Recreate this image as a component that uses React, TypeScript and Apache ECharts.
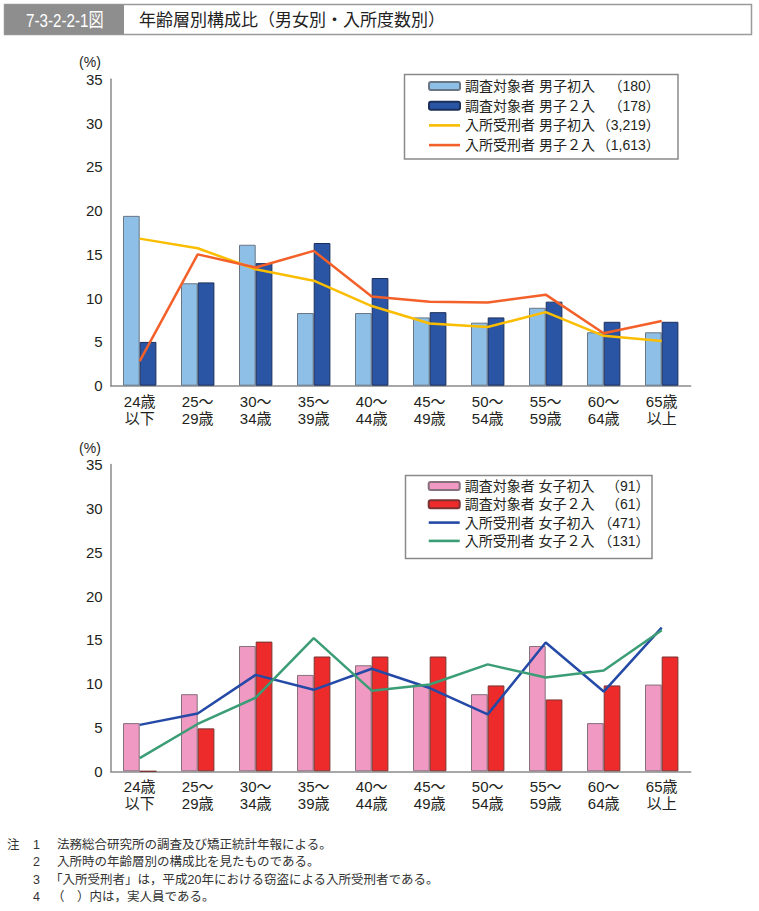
import React, { useEffect, useRef } from "react";
import * as echarts from "echarts";

const categories = [
  "24歳\n以下", "25～\n29歳", "30～\n34歳", "35～\n39歳", "40～\n44歳",
  "45～\n49歳", "50～\n54歳", "55～\n59歳", "60～\n64歳", "65歳\n以上",
];
const yTicks = [0, 5, 10, 15, 20, 25, 30, 35];

const maleNames = ["調査対象者 男子初入", "調査対象者 男子２入", "入所受刑者 男子初入", "入所受刑者 男子２入"];
const maleCounts = ["180", "178", "3,219", "1,613"];
const femaleNames = ["調査対象者 女子初入", "調査対象者 女子２入", "入所受刑者 女子初入", "入所受刑者 女子２入"];
const femaleCounts = ["91", "61", "471", "131"];

const maleSurveyFirst = [19.4, 11.7, 16.1, 8.3, 8.3, 7.8, 7.2, 8.9, 6.1, 6.1];
const maleSurveySecond = [5.0, 11.8, 14.0, 16.3, 12.3, 8.4, 7.8, 9.6, 7.3, 7.3];
const maleInmateFirst = [16.8, 15.7, 13.3, 12.0, 9.1, 7.1, 6.7, 8.4, 5.7, 5.1];
const maleInmateSecond = [2.8, 15.0, 13.5, 15.4, 10.2, 9.6, 9.5, 10.4, 6.0, 7.4];

const femaleSurveyFirst = [5.5, 8.8, 14.3, 11.0, 12.1, 9.9, 8.8, 14.3, 5.5, 9.9];
const femaleSurveySecond = [0, 4.9, 14.8, 13.1, 13.1, 13.1, 9.8, 8.2, 9.8, 13.1];
const femaleInmateFirst = [5.3, 6.6, 11.0, 9.3, 11.7, 9.5, 6.5, 14.7, 9.1, 16.4];
const femaleInmateSecond = [1.5, 5.4, 8.4, 15.2, 9.2, 9.9, 12.2, 10.7, 11.5, 16.1];

const notes = [
  { num: "1", text: "法務総合研究所の調査及び矯正統計年報による。", x: 57 },
  { num: "2", text: "入所時の年齢層別の構成比を見たものである。", x: 57 },
  { num: "3", text: "「入所受刑者」は，平成20年における窃盗による入所受刑者である。", x: 50 },
  { num: "4", text: "（　）内は，実人員である。", x: 52 },
];

const FONT = "'Liberation Sans', 'Noto Sans CJK JP', sans-serif";
const TXT = "#231f20";
const LINE_ICON = "path://M0,0H31V2.6H0Z";

export default function App() {
  const ref = useRef<HTMLDivElement>(null);
  useEffect(() => {
    if (!ref.current) return;
    const chart = echarts.init(ref.current, null, { renderer: "svg" });

    const gridL = 110.7;
    const gridW = 580;
    const grids = [
      { left: gridL, top: 79.3, width: gridW, height: 306.4 },
      { left: gridL, top: 464.6, width: gridW, height: 306.7 },
    ];

    const xAxis = [0, 1].map((i) => ({
      type: "category",
      gridIndex: i,
      data: categories,
      axisLine: { lineStyle: { color: "#8a8a8a", width: 1.5 } },
      axisTick: { show: false },
      axisLabel: { color: TXT, fontSize: 15, fontFamily: FONT, lineHeight: 17, margin: 7, interval: 0 },
    }));
    const yAxis = [0, 1].map((i) => ({
      type: "value",
      gridIndex: i,
      min: yTicks[0],
      max: yTicks[yTicks.length - 1],
      interval: 5,
      splitLine: { show: false },
      axisLine: { show: true, lineStyle: { color: "#8a8a8a", width: 1.5 } },
      axisTick: { show: false },
      axisLabel: { color: TXT, fontSize: 15, fontFamily: FONT, margin: 8 },
    }));

    const barBase = { type: "bar", barWidth: 16.7, barGap: "0%" };
    const lineBase = { type: "line", symbol: "none", showSymbol: false };

    const series: any[] = [
      { ...barBase, name: maleNames[0], xAxisIndex: 0, yAxisIndex: 0, data: maleSurveyFirst,
        itemStyle: { color: "#8dbfe7", borderColor: "#6b7684", borderWidth: 1 } },
      { ...barBase, name: maleNames[1], xAxisIndex: 0, yAxisIndex: 0, data: maleSurveySecond,
        itemStyle: { color: "#2a55a4", borderColor: "#1c2f5a", borderWidth: 1 } },
      { ...lineBase, name: maleNames[2], xAxisIndex: 0, yAxisIndex: 0, data: maleInmateFirst,
        itemStyle: { color: "#fbbd00" }, lineStyle: { width: 2.5, color: "#fbbd00" } },
      { ...lineBase, name: maleNames[3], xAxisIndex: 0, yAxisIndex: 0, data: maleInmateSecond,
        itemStyle: { color: "#f3602a" }, lineStyle: { width: 2.5, color: "#f3602a" } },
      { ...barBase, name: femaleNames[0], xAxisIndex: 1, yAxisIndex: 1, data: femaleSurveyFirst,
        itemStyle: { color: "#ef99c3", borderColor: "#85707c", borderWidth: 1 } },
      { ...barBase, name: femaleNames[1], xAxisIndex: 1, yAxisIndex: 1, data: femaleSurveySecond,
        itemStyle: { color: "#ee2b2b", borderColor: "#7a3232", borderWidth: 1 } },
      { ...lineBase, name: femaleNames[2], xAxisIndex: 1, yAxisIndex: 1, data: femaleInmateFirst,
        itemStyle: { color: "#2449a6" }, lineStyle: { width: 2.5, color: "#2449a6" } },
      { ...lineBase, name: femaleNames[3], xAxisIndex: 1, yAxisIndex: 1, data: femaleInmateSecond,
        itemStyle: { color: "#3b9d75" }, lineStyle: { width: 2.5, color: "#3b9d75" } },
    ];

    const makeLegend = (names: string[], counts: string[], left: number, top: number, cWidth: number, gap: number) => ({
      orient: "vertical",
      left,
      top,
      data: names.map((n, i) => (i < 2 ? { name: n } : { name: n, icon: LINE_ICON })),
      itemWidth: 31,
      itemHeight: 8,
      itemGap: gap,
      padding: 0,
      selectedMode: false,
      formatter: (name: string) => `{n|${name}}{c|（${counts[names.indexOf(name)]}）}`,
      textStyle: {
        color: TXT,
        fontSize: 14,
        fontFamily: FONT,
        lineHeight: 14,
        rich: {
          n: { fontSize: 14, fontFamily: FONT, color: TXT, lineHeight: 14 },
          c: { fontSize: 14, fontFamily: FONT, color: TXT, lineHeight: 14, width: cWidth, align: "right" },
        },
      },
    });

    const graphic: any[] = [
      { type: "rect", shape: { x: 4.5, y: 4.5, width: 747, height: 30 }, style: { fill: "#fff", stroke: "#9a9a9a", lineWidth: 1.5 } },
      { type: "rect", shape: { x: 4.5, y: 4.5, width: 119.5, height: 30 }, style: { fill: "#8e8e8e" } },
      { type: "text", x: 26, y: 20.5, scaleX: 0.8, style: { text: "7-3-2-2-1図", fill: "#fff", fontSize: 19, fontFamily: FONT, verticalAlign: "middle" } },
      { type: "text", x: 139, y: 20.5, style: { text: "年齢層別構成比（男女別・入所度数別）", fill: "#222", fontSize: 17, fontFamily: FONT, verticalAlign: "middle" } },
      { type: "text", x: 90, y: 62, style: { text: "(%)", fill: TXT, fontSize: 14, fontFamily: FONT, align: "center", verticalAlign: "middle" } },
      { type: "text", x: 90, y: 448, style: { text: "(%)", fill: TXT, fontSize: 14, fontFamily: FONT, align: "center", verticalAlign: "middle" } },
      { type: "rect", z: -1, shape: { x: 404.5, y: 74.5, width: 273.5, height: 84.5 }, style: { fill: "#fff", stroke: "#8a8a8a", lineWidth: 1.5 } },
      { type: "rect", z: -1, shape: { x: 405.5, y: 475.5, width: 246.5, height: 83 }, style: { fill: "#fff", stroke: "#8a8a8a", lineWidth: 1.5 } },
      { type: "text", x: 7, y: 845, style: { text: "注", fill: "#333", fontSize: 12.5, fontFamily: FONT, verticalAlign: "middle" } },
    ];
    notes.forEach((n, i) => {
      const y = 845 + i * 17.3;
      graphic.push({ type: "text", x: 33, y, style: { text: n.num, fill: "#333", fontSize: 12.5, fontFamily: FONT, verticalAlign: "middle" } });
      graphic.push({ type: "text", x: n.x, y, style: { text: n.text, fill: "#333", fontSize: 12.5, fontFamily: FONT, verticalAlign: "middle" } });
    });

    chart.setOption({
      animation: false,
      backgroundColor: "#fff",
      textStyle: { fontFamily: FONT },
      grid: grids,
      xAxis,
      yAxis,
      series,
      legend: [
        makeLegend(maleNames, maleCounts, 428, 79, 65, 5.7),
        makeLegend(femaleNames, femaleCounts, 427.7, 479, 55, 4.3),
      ],
      graphic,
    });
    return () => chart.dispose();
  }, []);
  return (
    <div
      ref={ref}
      style={{ position: "absolute", left: 0, top: 0, width: 759, height: 911, background: "#fff" }}
    />
  );
}
